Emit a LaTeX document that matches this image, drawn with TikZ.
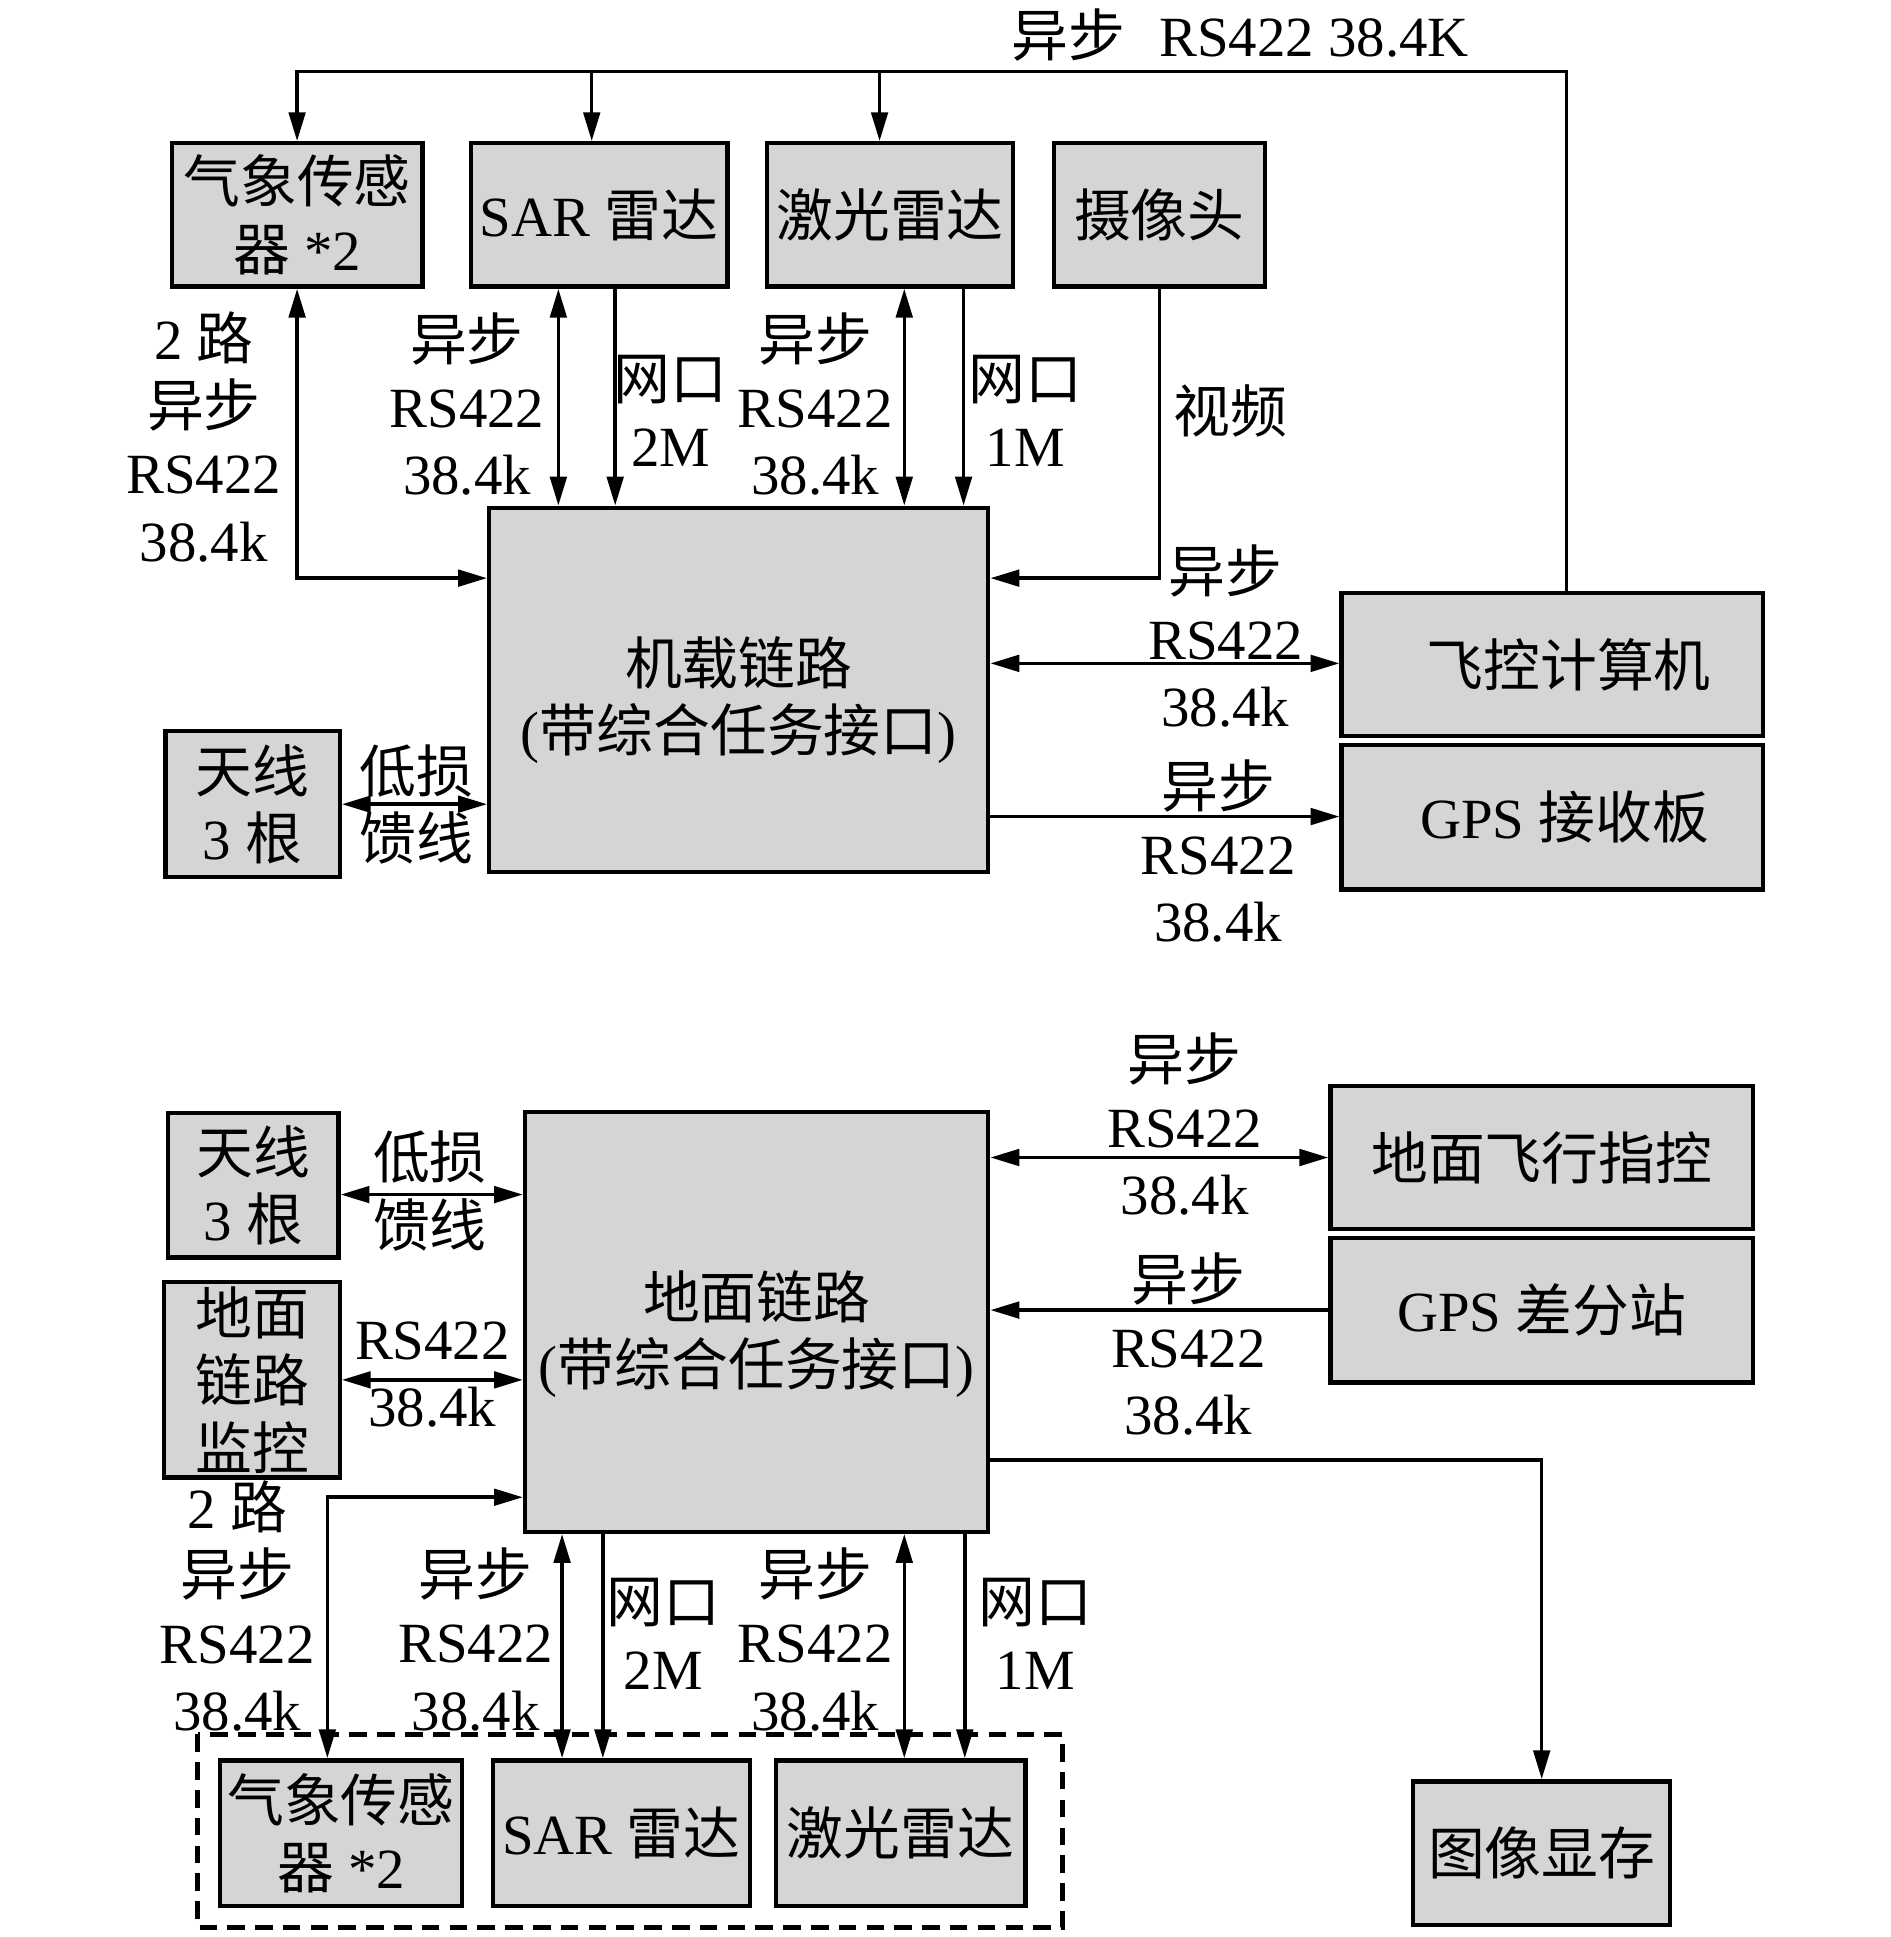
\documentclass[tikz,border=0pt]{standalone}
\usepackage{fontspec}
\setmainfont{Liberation Serif}
\newfontfamily\cjk{Noto Sans CJK SC}
\usetikzlibrary{arrows.meta}
\newcommand{\zh}[1]{{\cjk #1}}
\definecolor{boxgray}{RGB}{213,213,213}
\newcommand{\boxnode}[6]{\node[box, minimum width={(#4-#2)*0.6pt}, minimum height={(#5-#3)*0.6pt}] (#1) at ({(#2+#4)/2},{(#3+#5)/2}) {#6};}
\begin{document}
\begin{tikzpicture}[x=0.6pt, y=-0.6pt,
  every node/.style={font=\fontsize{27.6}{32.7}\selectfont, align=center, inner sep=0pt},
  box/.style={draw, fill=boxgray, line width=2.1pt},
  ln/.style={line width=1.7pt},
  >={Triangle[length=14pt,width=8pt]}]
\path[use as bounding box] (0,0) rectangle (1530,1568);
% ---------- top half ----------
\boxnode{qx}{139}{116}{342}{232}{\zh{气象传感}\\\zh{器} *2}
\boxnode{sar}{381}{116}{589}{232}{SAR \zh{雷达}}
\boxnode{jg}{621}{116}{820}{232}{\zh{激光雷达}}
\boxnode{sx}{853}{116}{1024}{232}{\zh{摄像头}}
\boxnode{main}{396}{411}{800}{706}{}
\node (maintxt) at ([yshift=-5pt]main.center) {\zh{机载链路}\\(\zh{带综合任务接口})};
\boxnode{fk}{1086}{480}{1427}{596}{\hspace{16pt}\raisebox{-3pt}{\zh{飞控计算机}}}
\boxnode{gps}{1086}{603}{1427}{720}{\hspace{12pt}GPS \zh{接收板}}
\boxnode{tx}{134}{592}{275}{710}{\zh{天线}\\3 \zh{根}}

\coordinate (bx) at (1268,58);
\coordinate (c1) at (479,0);
\coordinate (c2) at (712,0);
\coordinate (v1) at (452,0);
\coordinate (v2) at (498,0);
\coordinate (v3) at (732,0);
\coordinate (v4) at (780,0);
\coordinate (r1) at (0,468);
\coordinate (r2) at (0,537);
\coordinate (r3) at (0,661);

\draw[ln,->] (fk.north -| bx) -- (bx) -- (qx.north |- bx) -- (qx.north);
\draw[ln,->] (c1 |- bx) -- (sar.north -| c1);
\draw[ln,->] (c2 |- bx) -- (jg.north -| c2);
\node (toplbl) at (1004,28) {\zh{异步}\hspace{0.6em}RS422 38.4K};

\draw[ln,<->] (qx.south) |- (main.west |- r1);
\draw[ln,<->] (sar.south -| v1) -- (main.north -| v1);
\draw[ln,->] (sar.south -| v2) -- (main.north -| v2);
\draw[ln,<->] (jg.south -| v3) -- (main.north -| v3);
\draw[ln,->] (jg.south -| v4) -- (main.north -| v4);
\draw[ln,->] (sx.south) |- (main.east |- r1);
\draw[ln,<->] (main.east |- r2) -- (fk.west |- r2);
\draw[ln,->] (main.east |- r3) -- (gps.west |- r3);
\draw[ln,<->] (tx.east) -- (main.west |- tx.east);

\node (l1) at (165,353.5) {2 \zh{路}\\\zh{异步}\\RS422\\38.4k};
\node (l2) at (378,327) {\zh{异步}\\RS422\\38.4k};
\node (l3) at (543,332.5) {\zh{网口}\\2M};
\node (l4) at (660,327) {\zh{异步}\\RS422\\38.4k};
\node (l5) at (830,332.5) {\zh{网口}\\1M};
\node (l6) at (996,333) {\zh{视频}};
\node (l7) at (992,515) {\zh{异步}\\RS422\\38.4k};
\node (l8) at (986,689) {\zh{异步}\\RS422\\38.4k};
\node (l9) at (337,651) {\zh{低损}\\\zh{馈线}};

% ---------- bottom half ----------
\boxnode{main2}{425}{900}{800}{1240}{}
\node (main2txt) at ([yshift=-6pt]main2.center) {\zh{地面链路}\\(\zh{带综合任务接口})};
\boxnode{tx2}{136}{901}{274}{1018}{\zh{天线}\\3 \zh{根}}
\boxnode{jk}{133}{1038}{275}{1196}{\zh{地面}\\\zh{链路}\\\zh{监控}}
\boxnode{qx2}{178}{1425}{374}{1543}{\zh{气象传感}\\\zh{器} *2}
\boxnode{sar2}{399}{1425}{607}{1543}{SAR \zh{雷达}}
\boxnode{jg2}{628}{1425}{830}{1543}{\zh{激光雷达}}
\boxnode{dm}{1077}{879}{1419}{995}{\zh{地面飞行指控}}
\boxnode{gc}{1077}{1002}{1419}{1119}{GPS \zh{差分站}}
\boxnode{tc}{1144}{1442}{1352}{1558}{\zh{图像显存}}
\draw[line width=2.4pt, dash pattern=on 8.5pt off 5pt] (160,1404) rectangle (860,1560);

\coordinate (r5) at (0,967);
\coordinate (r7) at (0,1212);
\coordinate (r10) at (0,1182);
\coordinate (v6) at (265,0);
\coordinate (v7) at (455,0);
\coordinate (v8) at (488,0);
\coordinate (v9) at (732,0);
\coordinate (v10) at (781,0);

\draw[ln,<->] (tx2.east |- r5) -- (main2.west |- r5);
\draw[ln,<->] (jk.east) -- (main2.west |- jk.east);
\draw[ln,<->] (main2.west |- r7) -| (qx2.north -| v6);
\draw[ln,<->] (main2.south -| v7) -- (sar2.north -| v7);
\draw[ln,->] (main2.south -| v8) -- (sar2.north -| v8);
\draw[ln,<->] (main2.south -| v9) -- (jg2.north -| v9);
\draw[ln,->] (main2.south -| v10) -- (jg2.north -| v10);
\draw[ln,<->] (main2.east |- dm.west) -- (dm.west);
\draw[ln,->] (gc.west) -- (main2.east |- gc.west);
\draw[ln,->] (main2.east |- r10) -| (tc.north);

\node (m1) at (348,964) {\zh{低损}\\\zh{馈线}};
\node (m2) at (350,1112.5) {RS422\\38.4k};
\node (m3) at (192,1300) {2 \zh{路}\\\zh{异步}\\RS422\\38.4k};
\node (m4) at (385,1327) {\zh{异步}\\RS422\\38.4k};
\node (m5) at (537,1322.5) {\zh{网口}\\2M};
\node (m6) at (660,1327) {\zh{异步}\\RS422\\38.4k};
\node (m7) at (838,1322.5) {\zh{网口}\\1M};
\node (m8) at (959,910) {\zh{异步}\\RS422\\38.4k};
\node (m9) at (962,1088) {\zh{异步}\\RS422\\38.4k};
\end{tikzpicture}
\end{document}
